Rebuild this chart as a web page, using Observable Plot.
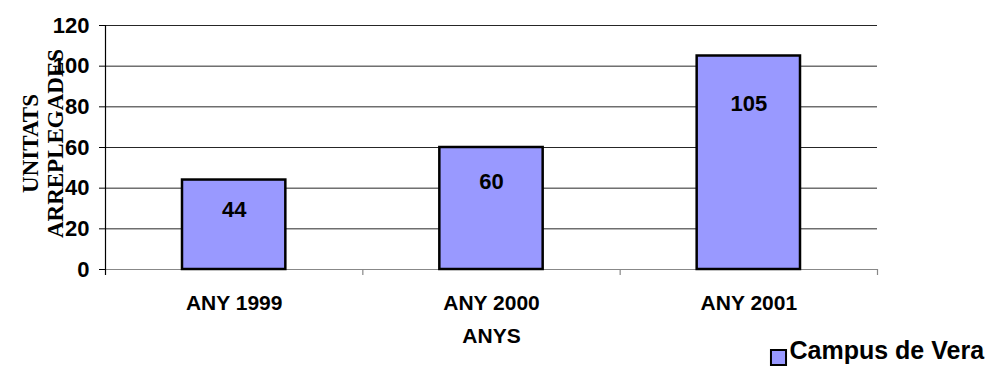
<!DOCTYPE html>
<html><head><meta charset="utf-8">
<script src="https://cdn.jsdelivr.net/npm/d3@7"></script>
<script src="https://cdn.jsdelivr.net/npm/@observablehq/plot@0.6"></script>
<style>
body{margin:0;background:#fff;}
svg{font-family:"Liberation Sans",Arial,sans-serif;}
</style></head>
<body><div id="chart"></div>
<script>
const categories = ["ANY 1999", "ANY 2000", "ANY 2001"];
const values = [44, 60, 105];
const yTicks = [0, 20, 40, 60, 80, 100, 120];
const seriesName = "Campus de Vera";
const xTitle = "ANYS";
const yTitle = "UNITATS\nARREPLEGADES";

const data = categories.map((c, i) => ({cat: c, i, value: values[i]}));
const bounds = d3.range(categories.length + 1);
const fill = "#9999ff";

const chart = Plot.plot({
  width: 987, height: 367,
  marginLeft: 105, marginRight: 110, marginTop: 25, marginBottom: 98,
  style: {fontFamily: "Liberation Sans, Arial, sans-serif", background: "#fff", overflow: "visible"},
  x: {type: "linear", domain: [0, categories.length], axis: null},
  y: {domain: [0, 120], axis: null},
  marks: [
    Plot.ruleY(yTicks.filter(t => t > 0), {y: d => d, stroke: "#000", strokeOpacity: 0.85, strokeWidth: 1}),
    Plot.ruleY([0], {y: d => d, stroke: "#888", strokeWidth: 1.2, insetLeft: -6}),
    Plot.ruleX(bounds.slice(1), {x: d => d, y1: 0, y2: 0, stroke: "#888", strokeWidth: 1.2, insetBottom: -6}),
    Plot.ruleX([0], {x: d => d, stroke: "#000", strokeWidth: 1.2, insetBottom: -6}),
    Plot.ruleY(yTicks, {y: d => d, x1: 0, x2: 0, insetLeft: -6, stroke: "#000"}),
    Plot.rectY(data, {x1: "i", x2: d => d.i + 1, y: "value", fill, stroke: "#000", strokeWidth: 2.5, insetLeft: 77, insetRight: 77}),
    Plot.text(data, {x: d => d.i + 0.5, y: d => d.value * 0.85 - 8, text: d => String(d.value), fontSize: 22, fontWeight: "bold", fill: "#000"}),
    Plot.text(yTicks, {x: 0, y: d => d, text: d => String(d), textAnchor: "end", dx: -16, fontSize: 22, fontWeight: "bold", fill: "#000"}),
    Plot.text(data, {x: d => d.i + 0.5, y: 0, text: "cat", dy: 34, fontSize: 21, fontWeight: "bold", fill: "#000"}),
    Plot.text([xTitle], {frameAnchor: "bottom", text: d => d, dy: 73, fontSize: 21, fontWeight: "bold", fill: "#000"}),
    Plot.text([yTitle], {frameAnchor: "left", text: d => d, dx: -63, dy: -4, rotate: -90, textAnchor: "middle", lineAnchor: "middle", lineHeight: 1.1, fontSize: 23, fontWeight: "bold", fontFamily: "Liberation Serif, Times New Roman, serif", fill: "#000"}),
    Plot.dot([seriesName], {frameAnchor: "bottom-right", dx: -99, dy: 88, symbol: "square", r: 8.5, fill, stroke: "#000", strokeWidth: 2}),
    Plot.text([seriesName], {frameAnchor: "bottom-right", text: d => d, textAnchor: "start", dx: -88, dy: 89, fontSize: 25, fontWeight: "bold", fill: "#000"})
  ]
});
document.getElementById("chart").appendChild(chart);
</script>
</body></html>
